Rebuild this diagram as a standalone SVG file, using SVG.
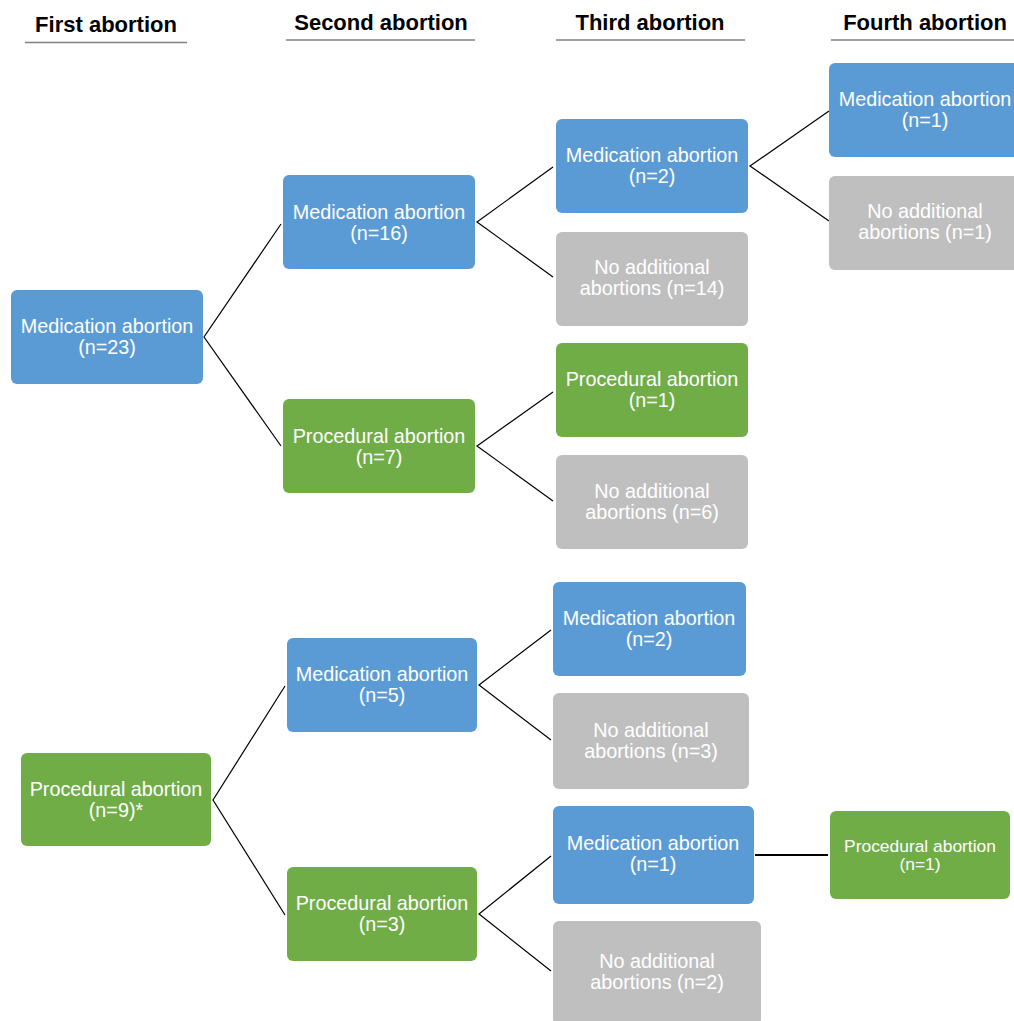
<svg xmlns="http://www.w3.org/2000/svg" width="1014" height="1021" viewBox="0 0 1014 1021">
<style>
.hdr{font-family:"Liberation Sans",Arial,sans-serif;font-weight:bold;font-size:22px;fill:#000;text-anchor:middle}
.hl{stroke:#808080;stroke-width:1.3}
.t{font-family:"Liberation Sans",Arial,sans-serif;font-size:19.8px;fill:#fff;text-anchor:middle}
.ts{font-family:"Liberation Sans",Arial,sans-serif;font-size:17.4px;fill:#fff;text-anchor:middle}
.med{fill:#5B9BD5}
.proc{fill:#70AD47}
.none{fill:#BFBFBF}
.c{stroke:#000;stroke-width:1.2;fill:none}
.c2{stroke:#000;stroke-width:2;fill:none}
</style>
<rect width="1014" height="1021" fill="#fff"/>
<g id="headers">
<text class="hdr" x="106" y="32">First abortion</text>
<line class="hl" x1="25" y1="42.5" x2="187" y2="42.5"/>
<text class="hdr" x="381" y="30">Second abortion</text>
<line class="hl" x1="286" y1="40" x2="475" y2="40"/>
<text class="hdr" x="650" y="30">Third abortion</text>
<line class="hl" x1="556" y1="40" x2="745" y2="40"/>
<text class="hdr" x="925" y="30">Fourth abortion</text>
<line class="hl" x1="831" y1="40" x2="1014" y2="40"/>
</g>
<g id="connectors">
<path class="c" d="M281,224 L204,337 L281,446"/>
<path class="c" d="M553,167 L477,222 L553,277"/>
<path class="c" d="M553,392 L477,446 L553,501"/>
<path class="c" d="M829,111 L750,166 L829,221"/>
<path class="c" d="M285,686 L213,800 L285,915"/>
<path class="c" d="M551,630 L479,685 L551,740"/>
<path class="c" d="M551,856 L479,914 L551,971"/>
<line class="c2" x1="755" y1="855" x2="828" y2="855"/>
</g>
<g id="n1"><rect class="med" x="11" y="290" width="192" height="94" rx="6"/><text class="t" x="107" y="333">Medication abortion</text><text class="t" x="107" y="354">(n=23)</text></g>
<g id="n2"><rect class="med" x="283" y="175" width="192" height="94" rx="6"/><text class="t" x="379" y="219">Medication abortion</text><text class="t" x="379" y="240">(n=16)</text></g>
<g id="n3"><rect class="proc" x="283" y="399" width="192" height="94" rx="6"/><text class="t" x="379" y="443">Procedural abortion</text><text class="t" x="379" y="464">(n=7)</text></g>
<g id="n4"><rect class="med" x="556" y="119" width="192" height="94" rx="6"/><text class="t" x="652" y="162">Medication abortion</text><text class="t" x="652" y="183">(n=2)</text></g>
<g id="n5"><rect class="none" x="556" y="232" width="192" height="94" rx="6"/><text class="t" x="652" y="274">No additional</text><text class="t" x="652" y="295">abortions (n=14)</text></g>
<g id="n6"><rect class="proc" x="556" y="343" width="192" height="94" rx="6"/><text class="t" x="652" y="386">Procedural abortion</text><text class="t" x="652" y="407">(n=1)</text></g>
<g id="n7"><rect class="none" x="556" y="455" width="192" height="94" rx="6"/><text class="t" x="652" y="498">No additional</text><text class="t" x="652" y="519">abortions (n=6)</text></g>
<g id="n8"><rect class="med" x="829" y="63" width="192" height="94" rx="6"/><text class="t" x="925" y="106">Medication abortion</text><text class="t" x="925" y="127">(n=1)</text></g>
<g id="n9"><rect class="none" x="829" y="176" width="192" height="94" rx="6"/><text class="t" x="925" y="218">No additional</text><text class="t" x="925" y="239">abortions (n=1)</text></g>
<g id="n10"><rect class="proc" x="21" y="753" width="190" height="93" rx="6"/><text class="t" x="116" y="796">Procedural abortion</text><text class="t" x="116" y="817">(n=9)*</text></g>
<g id="n11"><rect class="med" x="287" y="638" width="190" height="94" rx="6"/><text class="t" x="382" y="681">Medication abortion</text><text class="t" x="382" y="702">(n=5)</text></g>
<g id="n12"><rect class="proc" x="287" y="867" width="190" height="94" rx="6"/><text class="t" x="382" y="910">Procedural abortion</text><text class="t" x="382" y="931">(n=3)</text></g>
<g id="n13"><rect class="med" x="553" y="582" width="193" height="94" rx="6"/><text class="t" x="649" y="625">Medication abortion</text><text class="t" x="649" y="646">(n=2)</text></g>
<g id="n14"><rect class="none" x="553" y="693" width="196" height="96" rx="6"/><text class="t" x="651" y="737">No additional</text><text class="t" x="651" y="758">abortions (n=3)</text></g>
<g id="n15"><rect class="med" x="553" y="806" width="201" height="98" rx="6"/><text class="t" x="653" y="850">Medication abortion</text><text class="t" x="653" y="871">(n=1)</text></g>
<g id="n16"><rect class="none" x="553" y="921" width="208" height="104" rx="6"/><text class="t" x="657" y="968">No additional</text><text class="t" x="657" y="989">abortions (n=2)</text></g>
<g id="n17"><rect class="proc" x="830" y="811" width="180" height="88" rx="6"/><text class="ts" x="920" y="852">Procedural abortion</text><text class="ts" x="920" y="870">(n=1)</text></g>
</svg>
